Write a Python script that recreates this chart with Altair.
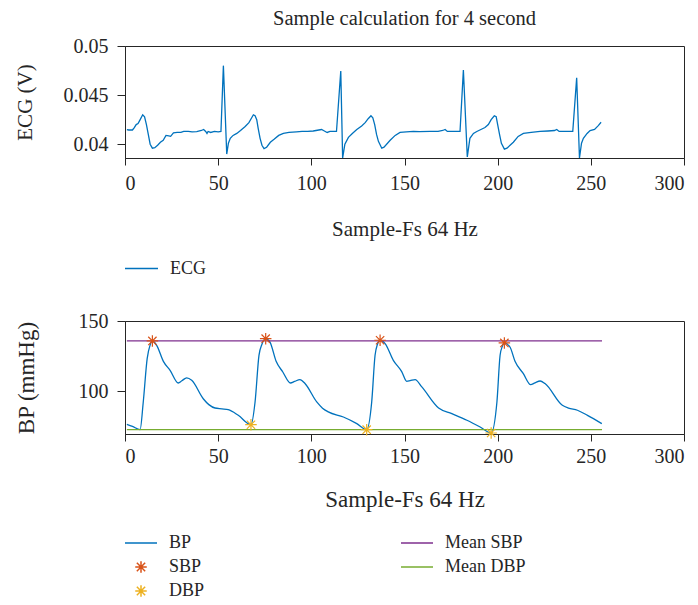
import altair as alt
import pandas as pd

# ---------------- data ----------------
ecg_x = [1, 2, 4, 5, 6, 7, 8, 9.5, 10.5, 11.5, 12.5, 13.5, 14.7, 16, 17.5, 19, 20.5, 22, 23.5, 24.5,
         26, 28, 30, 31.5, 34, 36, 38.5, 41, 42.2, 43.3, 44, 44.6, 46, 48, 50, 51.5, 52.8, 54.6,
         55.5, 56.5, 58, 60, 62, 64.5, 66.5, 68.9, 69.8, 70.7, 71.5, 72.5, 73.5, 74.6, 76, 78, 80,
         82.5, 85, 88, 92, 95, 98, 101, 104, 105.5, 107, 108.5, 110, 113.5, 115.8, 116.8, 118,
         119.9, 122, 124.4, 127, 128.9, 130.5, 132, 133, 134, 135, 136, 137.8, 139, 142.3, 145,
         147.6, 151, 154.8, 158, 163.7, 168, 170.5, 171.8, 173, 176, 179.8, 181.6, 183.7, 185.1,
         187, 188.8, 191, 193.2, 195, 196.5, 198.2, 199.2, 200, 201, 202, 203.6, 205, 208.4, 211,
         213.8, 218, 222.8, 227, 230.5, 231.7, 233, 237, 240.3, 242.4, 243.9, 245, 246, 248,
         249.6, 252, 254, 255.5]
ecg_v = [0.04150, 0.04145, 0.04145, 0.04170, 0.04200, 0.04210, 0.04245, 0.04300, 0.04280, 0.04200,
         0.04100, 0.04000, 0.03960, 0.03965, 0.03990, 0.04020, 0.04040, 0.04090, 0.04085, 0.04080,
         0.04115, 0.04120, 0.04120, 0.04130, 0.04130, 0.04125, 0.04128, 0.04140, 0.04150, 0.04130,
         0.04110, 0.04130, 0.04120, 0.04130, 0.04125, 0.04130, 0.04800, 0.03900, 0.04010, 0.04060,
         0.04090, 0.04110, 0.04140, 0.04180, 0.04220, 0.04300, 0.04290, 0.04250, 0.04160, 0.04060,
         0.03990, 0.03955, 0.03970, 0.04020, 0.04050, 0.04090, 0.04110, 0.04120, 0.04125, 0.04130,
         0.04130, 0.04135, 0.04145, 0.04150, 0.04135, 0.04120, 0.04130, 0.04130, 0.04745, 0.03860,
         0.04000, 0.04070, 0.04110, 0.04150, 0.04185, 0.04220, 0.04260, 0.04290, 0.04270, 0.04200,
         0.04100, 0.04030, 0.03960, 0.03970, 0.04040, 0.04090, 0.04120, 0.04125, 0.04130, 0.04128,
         0.04130, 0.04132, 0.04140, 0.04150, 0.04130, 0.04130, 0.04130, 0.04755, 0.03870, 0.04060,
         0.04110, 0.04130, 0.04150, 0.04170, 0.04200, 0.04250, 0.04290, 0.04280, 0.04200, 0.04100,
         0.04010, 0.03950, 0.03960, 0.04020, 0.04080, 0.04110, 0.04120, 0.04130, 0.04135, 0.04140,
         0.04150, 0.04130, 0.04130, 0.04130, 0.04676, 0.03860, 0.04010, 0.04060, 0.04110, 0.04140,
         0.04150, 0.04190, 0.04224]

bp_x = [1, 4, 8.1, 9.8, 11.9, 13.5, 14.7, 17, 20.6, 24.2, 28.6, 30.5, 33.1, 35.8, 42, 45, 48.3, 52,
        55.4, 60.8, 67.6, 69.8, 71.9, 73.5, 75.5, 77.8, 81.1, 84.7, 88.8, 91, 93.9, 96.6, 102.9,
        106, 109.1, 117.2, 124.4, 129.7, 132.4, 134.2, 135.5, 136.9, 139.6, 144, 148.5, 151.2,
        153, 155.7, 159.3, 168.3, 175.4, 183.5, 190.6, 196.5, 199.6, 201.3, 202.5, 203.6, 206.6,
        209.3, 213.8, 217.7, 220, 222.8, 225.4, 234.7, 238, 242.8, 248.2, 255.9]
bp_v = [76.5, 75.0, 72.7, 92.4, 123.2, 133.0, 135.8, 132.7, 121.3, 114.9, 105.9, 107.5, 109.5, 107.8,
        94.7, 90.5, 88.1, 87.5, 86.9, 82.9, 76.2, 92.4, 125.6, 133.5, 137.4, 135.0, 121.4, 113.7,
        105.9, 107.0, 108.3, 105.5, 92.4, 88.0, 85.3, 81.7, 77.0, 72.7, 92.4, 125.6, 133.5, 136.3,
        133.9, 122.0, 114.0, 107.1, 107.5, 108.3, 103.1, 88.1, 84.1, 79.4, 74.6, 70.3, 92.4, 125.6,
        132.0, 134.4, 131.5, 121.4, 112.5, 104.7, 106.0, 107.3, 105.5, 90.0, 88.0, 86.5, 82.9, 77.0]

sbp_x = [14.7, 75.5, 136.9, 203.6]
sbp_v = [135.8, 137.4, 136.3, 134.4]
dbp_x = [67.6, 129.7, 196.5]
dbp_v = [76.2, 72.7, 70.3]

mean_x = [1, 256]
mean_sbp = 135.8
mean_dbp = 72.7

x_ticks = [0, 50, 100, 150, 200, 250, 300]
ecg_ticks = [0.04, 0.045, 0.05]
bp_ticks = [100, 150]
legend_order = ["BP", "SBP", "DBP", "Mean SBP", "Mean DBP"]

# ---------------- styling ----------------
FONT = "Liberation Serif"
INK = "#262626"
BLUE = "#0072BD"
ORANGE = "#D95319"
YELLOW = "#EDB120"
PURPLE = "#7E2F8E"
GREEN = "#77AC30"
ASTERISK = "M-0.36,0L0.36,0M0,-0.36L0,0.36M-0.26,-0.26L0.26,0.26M-0.26,0.26L0.26,-0.26"

ecg_df = pd.DataFrame({"x": ecg_x, "v": ecg_v, "series": "ECG"})
bp_df = pd.DataFrame({"x": bp_x, "v": bp_v})
msbp_df = pd.DataFrame({"x": mean_x, "v": [mean_sbp] * len(mean_x)})
mdbp_df = pd.DataFrame({"x": mean_x, "v": [mean_dbp] * len(mean_x)})
pts_df = pd.DataFrame({
    "x": sbp_x + dbp_x,
    "v": sbp_v + dbp_v,
    "series": ["SBP"] * len(sbp_x) + ["DBP"] * len(dbp_x),
})

xscale = alt.Scale(domain=[0, 300], nice=False, zero=False)


def x_axis(size, tpad, lpad):
    return alt.Axis(values=x_ticks, title="Sample-Fs 64 Hz", titleFontSize=size,
                    titlePadding=tpad, labelPadding=lpad, tickSize=7, grid=False)


top = alt.Chart(ecg_df).mark_line(strokeWidth=1.3, clip=True).encode(
    x=alt.X("x:Q", scale=xscale, axis=x_axis(21, 25, 8)),
    y=alt.Y("v:Q", scale=alt.Scale(domain=[0.0386, 0.05], nice=False, zero=False),
            axis=alt.Axis(values=ecg_ticks, format="~g", title="ECG (V)", titleFontSize=21,
                          titlePadding=28, labelPadding=9, tickSize=8, grid=False)),
    color=alt.Color("series:N", scale=alt.Scale(domain=["ECG"], range=[BLUE]),
                    legend=alt.Legend(title=None, orient="none", legendX=-1, legendY=205,
                                      symbolType="stroke", symbolSize=1089,
                                      symbolStrokeWidth=1.5, labelFontSize=18,
                                      labelOffset=11, padding=0)),
).properties(
    width=559, height=112,
    title=alt.TitleParams("Sample calculation for 4 second", fontSize=20.5, font=FONT,
                          fontWeight="normal", anchor="middle", offset=7, color=INK),
)

xb = alt.X("x:Q", scale=xscale, axis=x_axis(23, 22, 5))
yb = alt.Y("v:Q", scale=alt.Scale(domain=[69.6, 150], nice=False, zero=False),
           axis=alt.Axis(values=bp_ticks, title="BP (mmHg)", titleFontSize=23,
                         titlePadding=40, labelPadding=9, tickSize=8, grid=False))

leg = alt.Legend(title=None, orient="none", legendX=-1, legendY=211,
                 columns=2, columnPadding=195, rowPadding=2, clipHeight=22,
                 symbolSize=1024, symbolStrokeWidth=1.5,
                 labelFontSize=18, labelOffset=11, padding=0)

bp_line = alt.Chart(bp_df).mark_line(strokeWidth=1.3, color=BLUE, interpolate="monotone").encode(x=xb, y=yb)
msbp_line = alt.Chart(msbp_df).mark_line(strokeWidth=1.3, color=PURPLE).encode(x=xb, y=yb)
mdbp_line = alt.Chart(mdbp_df).mark_line(strokeWidth=1.3, color=GREEN).encode(x=xb, y=yb)
points = alt.Chart(pts_df).mark_point(filled=False, strokeWidth=1.2, size=1024, clip=False, opacity=1).encode(
    x=xb, y=yb,
    color=alt.Color("series:N",
                    scale=alt.Scale(domain=legend_order, range=[BLUE, ORANGE, YELLOW, PURPLE, GREEN]),
                    legend=leg),
    shape=alt.Shape("series:N",
                    scale=alt.Scale(domain=legend_order,
                                    range=["stroke", ASTERISK, ASTERISK, "stroke", "stroke"]),
                    legend=leg),
)

bottom = alt.layer(bp_line, msbp_line, mdbp_line, points).properties(width=559, height=113)

chart = alt.vconcat(top, bottom, spacing=31).resolve_scale(color="independent", shape="independent").properties(
    padding={"left": 5, "top": 0, "right": 0, "bottom": 0}
).configure(
    font=FONT,
).configure_axis(
    labelFont=FONT, titleFont=FONT, labelFontSize=20, labelColor=INK, titleColor=INK,
    titleFontWeight="normal", domainColor=INK, tickColor=INK, domainWidth=1, tickWidth=1,
).configure_legend(
    labelFont=FONT, labelColor=INK,
).configure_view(
    stroke=INK, strokeWidth=1,
)

chart.save("out.html", embed_options={"renderer": "svg", "actions": False})
